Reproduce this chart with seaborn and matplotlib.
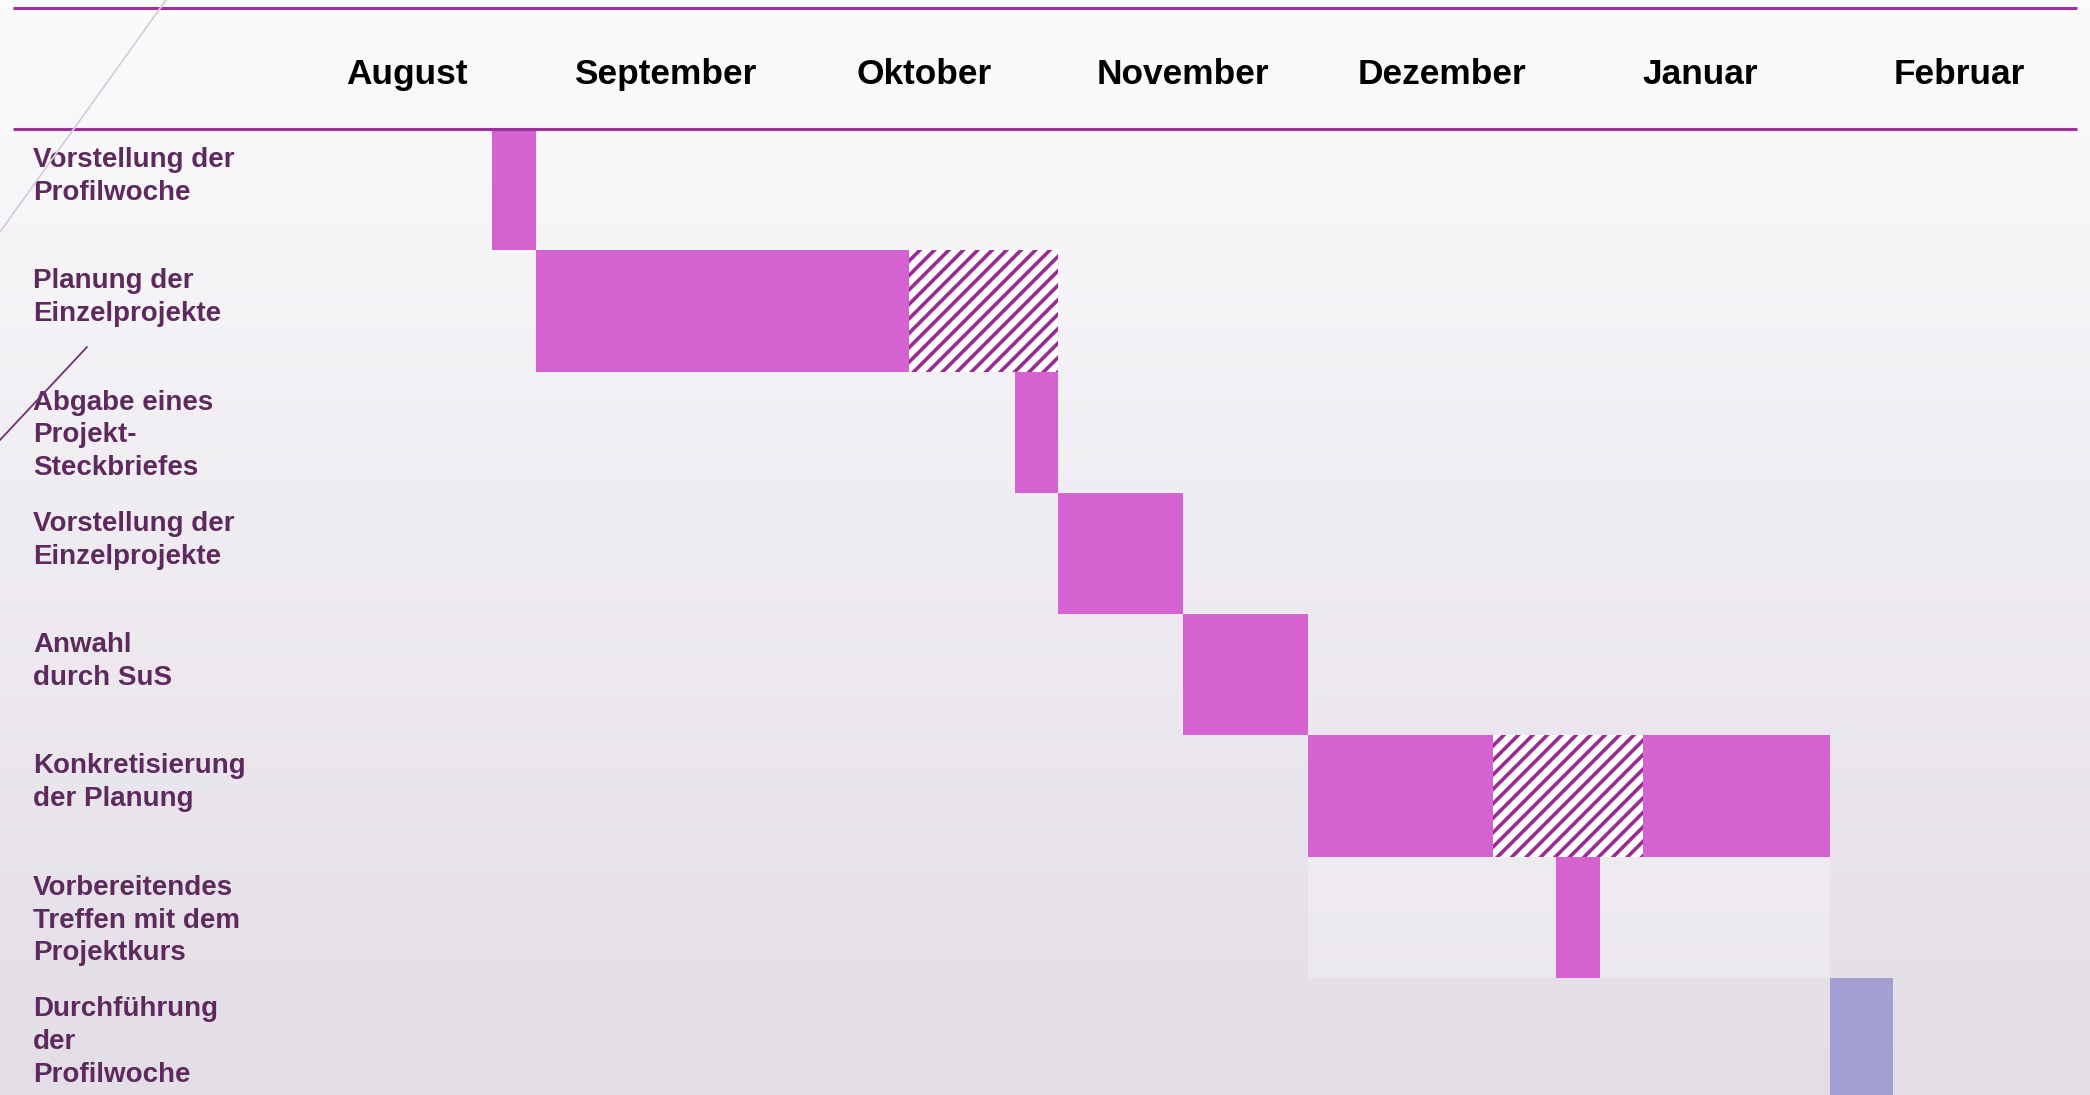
import numpy as np
import pandas as pd
import matplotlib
matplotlib.use("Agg")
import matplotlib.pyplot as plt
from matplotlib.lines import Line2D
import seaborn as sns

# months along the top, each split into 4 weeks
months = ["August", "September", "Oktober", "November", "Dezember", "Januar", "Februar"]
weeks_per_month = [4, 4, 4, 4, 4, 4, 4]

tasks = [
    "Vorstellung der\nProfilwoche",
    "Planung der\nEinzelprojekte",
    "Abgabe eines\nProjekt-\nSteckbriefes",
    "Vorstellung der\nEinzelprojekte",
    "Anwahl\ndurch SuS",
    "Konkretisierung\nder Planung",
    "Vorbereitendes\nTreffen mit dem\nProjektkurs",
    "Durchführung\nder\nProfilwoche",
]

# bar segments (in weeks from 1 August)
seg_task = [0, 1, 1, 2, 3, 4, 5, 5, 5, 6, 7]
seg_start = [3.32, 4.0, 9.77, 11.41, 12.07, 14.0, 15.93, 18.79, 21.11, 19.77, 24.0]
seg_end = [4.0, 9.77, 12.07, 12.07, 14.0, 15.93, 18.79, 21.11, 24.0, 20.45, 24.98]
seg_kind = ["plan", "plan", "ferien", "plan", "plan", "plan",
            "plan", "ferien", "plan", "plan", "woche"]

# lighter band behind the meeting row
band_task = [6]
band_start = [15.93]
band_end = [24.0]

df = pd.DataFrame({"task": seg_task, "start": seg_start, "end": seg_end, "kind": seg_kind})
df["dur"] = df["end"] - df["start"]

sns.set_theme(style="white")
plt.rcParams["font.family"] = ["Liberation Sans", "DejaVu Sans"]
plt.rcParams["hatch.linewidth"] = 2.0

DPI = 130
fig = plt.figure(figsize=(2090 / DPI, 1095 / DPI), dpi=DPI)

# background gradient
ax_bg = fig.add_axes([0, 0, 1, 1], zorder=-1)
top = np.array([251, 251, 252]) / 255
bot = np.array([227, 221, 230]) / 255
t = np.linspace(0, 1, 256)[:, None, None]
grad = top * (1 - t) + bot * t
ax_bg.imshow(np.repeat(grad, 2, axis=1), aspect="auto", origin="upper", extent=[0, 1, 0, 1])
ax_bg.axis("off")

ax = fig.add_axes([0, 0, 1, 1])
ax.patch.set_alpha(0)
ax.set_xlim(-4.281, 28.02)
ax.set_ylim(7.464, -1.5635)
ax.axis("off")

ax.barh(band_task, np.array(band_end) - np.array(band_start), left=band_start,
        height=1.0, color="white", alpha=0.3, linewidth=0, zorder=1)

colors = {"plan": "#D462D0", "woche": "#A39FD3"}
for kind, sub in df.groupby("kind"):
    if kind == "ferien":
        ax.barh(sub["task"], sub["dur"], left=sub["start"], height=1.0,
                facecolor="white", edgecolor="#9B2A93", hatch="///", linewidth=0, zorder=2)
    else:
        ax.barh(sub["task"], sub["dur"], left=sub["start"], height=1.0,
                color=colors[kind], linewidth=0, zorder=2)

# header lines
for yy in [-1.5, -0.5]:
    ax.plot([-4.08, 27.82], [yy, yy], color="#9A3399", lw=1.7, solid_capstyle="butt", zorder=3)

# month labels
starts = np.concatenate([[0], np.cumsum(weeks_per_month)[:-1]])
for m, s, w in zip(months, starts, weeks_per_month):
    ax.text(s + w / 2, -0.871, m, ha="center", va="baseline", fontsize=19.5,
            fontweight="bold", color="black")

# task labels
for i, name in enumerate(tasks):
    ax.text(-3.77, i - 0.5 + 0.148, name, ha="left", va="top", fontsize=15.4,
            fontweight="bold", color="#5E2A5E", linespacing=1.34, zorder=4)

# decorative diagonals of the slide template
W, H = 2090, 1095
fig.add_artist(Line2D([166 / W, 0], [1, 1 - 232 / H], color="#D9CDD9", lw=1.0))
fig.add_artist(Line2D([87 / W, 0], [1 - 347 / H, 1 - 440 / H], color="#6E3370", lw=1.0))

fig.savefig("out.png", dpi=DPI)
